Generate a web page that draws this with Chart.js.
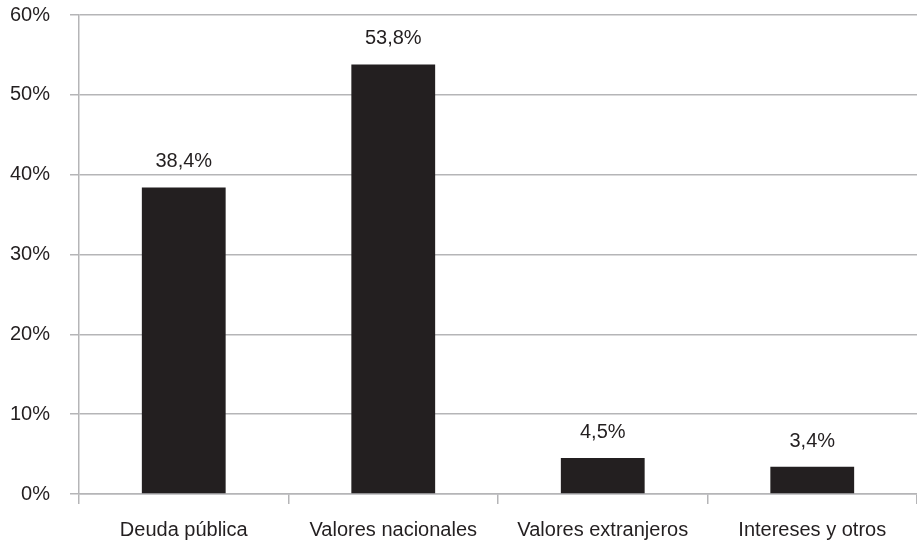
<!DOCTYPE html>
<html>
<head>
<meta charset="utf-8">
<script src="https://cdn.jsdelivr.net/npm/chart.js@4"></script>
<style>
  html, body { margin: 0; padding: 0; background: #fff; }
  #wrap { width: 917px; height: 541px; }
</style>
</head>
<body>
<div id="wrap"><canvas id="chart"></canvas></div>
<script>
const categories = ['Deuda pública', 'Valores nacionales', 'Valores extranjeros', 'Intereses y otros'];
const values = [38.4, 53.8, 4.5, 3.4];
const valueLabels = ['38,4%', '53,8%', '4,5%', '3,4%'];

const gridColor = '#b5b5b7';
const barColor = '#231f20';
const font = { family: 'Liberation Sans, Arial, sans-serif', size: 20 };

// etiquetas encima de cada barra
const barLabels = {
  id: 'barLabels',
  afterDatasetsDraw(chart) {
    const ctx = chart.ctx;
    const meta = chart.getDatasetMeta(0);
    ctx.save();
    ctx.font = font.size + 'px ' + font.family;
    ctx.fillStyle = barColor;
    ctx.textAlign = 'center';
    ctx.textBaseline = 'alphabetic';
    meta.data.forEach((bar, i) => {
      ctx.fillText(valueLabels[i], bar.x, bar.y - 20);
    });
    ctx.restore();
  }
};

new Chart(document.getElementById('chart'), {
  type: 'bar',
  data: {
    labels: categories,
    datasets: [{
      data: values,
      backgroundColor: barColor,
      barPercentage: 0.4,
      categoryPercentage: 1
    }]
  },
  options: {
    responsive: true,
    maintainAspectRatio: false,
    animation: false,
    layout: { padding: { top: 15, right: 0, bottom: 0, left: 0 } },
    plugins: { legend: { display: false }, tooltip: { enabled: false } },
    scales: {
      x: {
        afterFit: (scale) => { scale.height = 47; scale.paddingTop = 0; },
        grid: { drawOnChartArea: false, drawTicks: true, tickLength: 10, color: gridColor, lineWidth: 1.5, offset: true },
        border: { display: true, color: gridColor, width: 1.5 },
        ticks: { color: barColor, font: font, padding: 14, maxRotation: 0 }
      },
      y: {
        min: 0,
        max: 60,
        afterFit: (scale) => { scale.width = 79; scale.paddingTop = 0; scale.paddingBottom = 0; },
        grid: { color: gridColor, lineWidth: 1.5, tickLength: 9 },
        border: { display: true, color: gridColor, width: 1.5 },
        ticks: { stepSize: 10, color: barColor, font: font, padding: 20, callback: v => v + '%' }
      }
    }
  },
  plugins: [barLabels]
});
</script>
</body>
</html>
